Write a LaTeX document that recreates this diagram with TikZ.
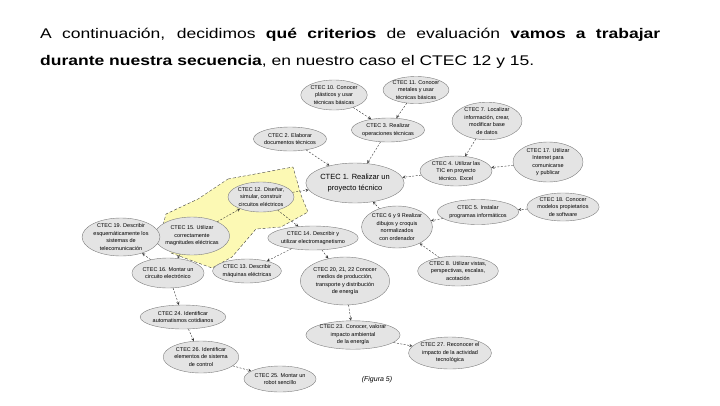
\documentclass[tikz,border=0pt]{standalone}
\usepackage{fontspec}
\setmainfont{Liberation Sans}
\newfontfamily\cabecera[FakeStretch=1.25]{Liberation Sans}
\usetikzlibrary{shapes.geometric, arrows}
\definecolor{elfill}{RGB}{228,228,228}
\definecolor{elline}{RGB}{125,125,125}
\definecolor{marca}{RGB}{252,249,180}
\tikzset{
crit/.style={ellipse, draw=elline, fill=elfill, align=center, inner sep=0pt, font=\fontsize{5.5}{7.5}\selectfont},
flecha/.style={draw=black!80, dash pattern=on 2pt off 1.5pt, -stealth}
}
\begin{document}
\begin{tikzpicture}[x=1pt, y=-1pt]
\useasboundingbox (0,0) rectangle (720,405);
\node[anchor=base west, inner sep=0pt, font=\cabecera\fontsize{14}{16}\selectfont] (l1) at (40,38) {\makebox[620pt][s]{A continuación, decidimos \textbf{qué criterios} de evaluación \textbf{vamos a trabajar}}};
\node[anchor=base west, inner sep=0pt, font=\cabecera\fontsize{14}{16}\selectfont] (l2) at (40,65) {\textbf{durante nuestra secuencia}, en nuestro caso el CTEC 12 y 15.};

\filldraw[fill=marca, draw=black!75, dash pattern=on 3pt off 2pt] (228,179) -- (293,167) -- (301,195) -- (308,212) -- (281,227) -- (256,229) -- (232,257) -- (212,268) -- (171,253) -- (160,236) -- (166,214) -- (198,199) -- cycle;

\node[crit, minimum width=62pt, minimum height=30pt] (c10) at (334,95) {CTEC 10. Conocer\\plásticos y usar\\técnicas básicas};
\node[crit, minimum width=62pt, minimum height=27pt] (c11) at (416,90) {CTEC 11. Conocer\\metales y usar\\técnicas básicas};
\node[crit, minimum width=70pt, minimum height=34pt] (c7) at (487,121) {CTEC 7. Localizar\\información, crear,\\modificar base\\de datos};
\node[crit, minimum width=66pt, minimum height=24pt] (c2) at (290,139) {CTEC 2. Elaborar\\documentos técnicos};
\node[crit, minimum width=68pt, minimum height=24pt] (c3) at (388,130) {CTEC 3. Realizar\\operaciones técnicas};
\node[crit, minimum width=70pt, minimum height=40pt] (c17) at (548,162) {CTEC 17. Utilizar\\Internet para\\comunicarse\\y publicar};
\node[crit, minimum width=72pt, minimum height=30pt] (c4) at (456,171) {CTEC 4. Utilizar las\\TIC en proyecto\\técnico. Excel};
\node[crit, minimum width=88pt, minimum height=40pt, font=\fontsize{7.5}{11.5}\selectfont] (c1) at (355,183) {CTEC 1. Realizar un\\proyecto técnico};
\node[crit, minimum width=66pt, minimum height=30pt] (c12) at (261,197) {CTEC 12. Diseñar,\\simular, construir\\circuitos eléctricos};
\node[crit, minimum width=62pt, minimum height=38pt] (c15) at (192,236) {CTEC 15. Utilizar\\correctamente\\magnitudes eléctricas};
\node[crit, minimum width=62pt, minimum height=38pt] (c19) at (121,237) {CTEC 19. Describir\\esquemáticamente los\\sistemas de\\telecomunicación};
\node[crit, minimum width=76pt, minimum height=24pt] (c14) at (313,238) {CTEC 14. Describir y\\utilizar electromagnetismo};
\node[crit, minimum width=66pt, minimum height=42pt] (c6) at (397,227) {CTEC 6 y 9 Realizar\\dibujos y croquis\\normalizados\\con ordenador};
\node[crit, minimum width=70pt, minimum height=25pt] (c5) at (478,212) {CTEC 5. Instalar\\programas informáticos};
\node[crit, minimum width=70pt, minimum height=28pt] (c18) at (563,207) {CTEC 18. Conocer\\modelos propietarios\\de software};
\node[crit, minimum width=70pt, minimum height=30pt] (c8) at (458,271) {CTEC 8. Utilizar vistas,\\perspectivas, escalas,\\acotación};
\node[crit, minimum width=70pt, minimum height=30pt] (c16) at (168,273) {CTEC 16. Montar un\\circuito electrónico};
\node[crit, minimum width=62pt, minimum height=24pt] (c13) at (247,271) {CTEC 13. Describir\\máquinas eléctricas};
\node[crit, minimum width=84pt, minimum height=48pt] (c20) at (345,281) {CTEC 20, 21, 22 Conocer\\medios de producción,\\transporte y distribución\\de energía};
\node[crit, minimum width=74pt, minimum height=24pt] (c24) at (183,317) {CTEC 24. Identificar\\automatismos cotidianos};
\node[crit, minimum width=70pt, minimum height=32pt] (c26) at (201,357) {CTEC 26. Identificar\\elementos de sistema\\de control};
\node[crit, minimum width=66pt, minimum height=26pt] (c25) at (280,379) {CTEC 25. Montar un\\robot sencillo};
\node[crit, minimum width=82pt, minimum height=26pt] (c23) at (353,335) {CTEC 23. Conocer, valorar\\impacto ambiental\\de la energía};
\node[crit, minimum width=80pt, minimum height=32pt] (c27) at (450,353) {CTEC 27. Reconocer el\\impacto de la actividad\\tecnológica};
\node[font=\fontsize{7}{8}\selectfont\itshape] (fig) at (377,380) {(Figura 5)};

\draw[flecha] (c10) -- (c3);
\draw[flecha] (c11) -- (c3);
\draw[flecha] (c2) -- (c1);
\draw[flecha] (c3) -- (c1);
\draw[flecha] (c7) -- (c4);
\draw[flecha] (c17) -- (c4);
\draw[flecha] (c4) -- (c1);
\draw[flecha] (c12) -- (c1);
\draw[flecha] (c15) -- (c12);
\draw[flecha] (c12) -- (c14);
\draw[flecha] (c6) -- (c1);
\draw[flecha] (c5) -- (c6);
\draw[flecha] (c18) -- (c5);
\draw[flecha] (c8) -- (c6);
\draw[flecha] (c14) -- (c13);
\draw[flecha] (c14) -- (c20);
\draw[flecha] (c15) -- (c16);
\draw[flecha] (c16) -- (c19);
\draw[flecha] (c16) -- (c24);
\draw[flecha] (c24) -- (c26);
\draw[flecha] (c26) -- (c25);
\draw[flecha] (c20) -- (c23);
\draw[flecha] (c23) -- (c27);
\end{tikzpicture}
\end{document}
